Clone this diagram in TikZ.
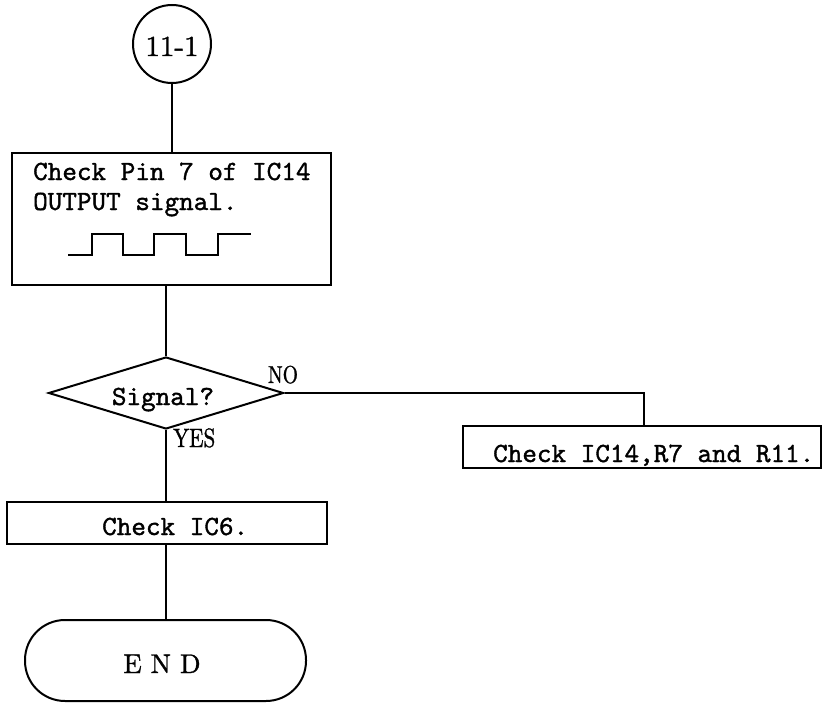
\documentclass[tikz,border=0pt]{standalone}
\usepackage{fontspec}
\newfontfamily\monof[FakeBold=1.3]{lmmono10-regular.otf}
\newfontfamily\romf[FakeBold=1.2]{lmroman10-regular.otf}
\usetikzlibrary{shapes.geometric}
\tikzset{
  ln/.style={line width=2pt},
  boxshape/.style={draw, line width=2pt, rectangle, inner sep=0pt},
  mono/.style={inner sep=0pt, font=\monof\fontsize{27.8}{30}\selectfont},
  roman/.style={inner sep=0pt, font=\romf\fontsize{#1}{#1}\selectfont},
}
\begin{document}
\begin{tikzpicture}[x=1pt,y=-1pt]
\useasboundingbox (0,0) rectangle (823,704);
% shapes
\node[draw, line width=2pt, circle, minimum size=78pt, inner sep=0pt] (c) at (172,44) {};
\node[boxshape, minimum width=319pt, minimum height=132pt] (b1) at (171.5,219) {};
\node[draw, line width=2pt, diamond, inner sep=0pt, minimum width=235pt, minimum height=72pt] (d) at (166,393) {};
\node[boxshape, minimum width=358pt, minimum height=42pt] (b2) at (642,447) {};
\node[boxshape, minimum width=320pt, minimum height=42pt] (b3) at (167,523) {};
\node[draw, line width=2pt, rectangle, rounded corners=40pt, inner sep=0pt, minimum width=281pt, minimum height=81pt] (e) at (165.5,660.5) {};
\coordinate (k) at (644,394);
% texts
\node[roman=29, anchor=base] (ct) at (172,56) {11-1};
\node[mono, anchor=base west] (t1a) at (33,180) {Check Pin 7 of IC14};
\node[mono, anchor=base west] (t1b) at (33,210) {OUTPUT signal.};
\node[mono, anchor=base] (dt) at (163,405) {Signal?};
\node[roman=24.5, anchor=base] (no) at (283,383) {\scalebox{0.8}[1]{NO}};
\node[roman=26.5, anchor=base west] (yes) at (173,447) {\scalebox{0.8}[1]{YES}};
\node[mono, anchor=base west] (t2) at (493,462) {Check IC14,R7 and R11.};
\node[mono, anchor=base west] (t3) at (102,535) {Check IC6.};
\node[roman=27, anchor=base] (et) at (162,673) {E\hspace{9pt}N\hspace{9pt}D};
% waveform
\draw[ln] (68,255) -- (92,255) -- (92,234) -- (123,234) -- (123,255) -- (154,255)
  -- (154,234) -- (186,234) -- (186,255) -- (218,255) -- (218,234) -- (251,234);
% connectors
\draw[ln] (c.south) -- (c.south |- b1.north);
\draw[ln] (d.north) -- (d.north |- b1.south);
\draw[ln] (d.east) -| (k |- b2.north);
\draw[ln] (d.south) -- (d.south |- b3.north);
\draw[ln] (e.north) -- (e.north |- b3.south);
\end{tikzpicture}
\end{document}
